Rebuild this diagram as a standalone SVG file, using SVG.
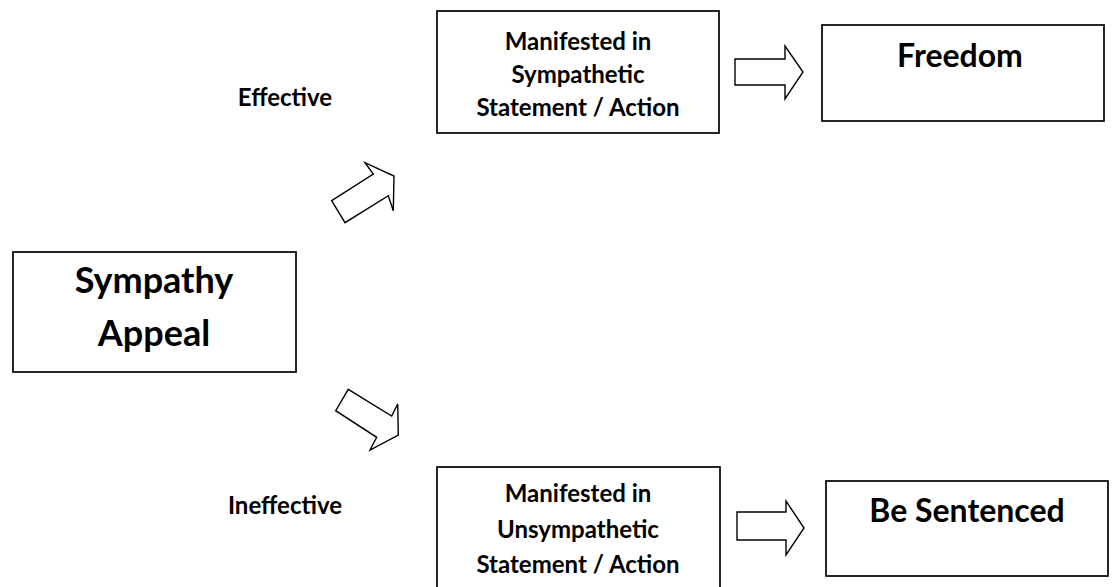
<svg xmlns="http://www.w3.org/2000/svg" width="1112" height="587" viewBox="0 0 1112 587">
<style>
.box{fill:#fff;stroke:#000;stroke-width:1.7}
.arr{fill:#fff;stroke:#000;stroke-width:1.4;stroke-linejoin:miter}
.t{font-family:Lato,"Open Sans",sans-serif;font-weight:bold;fill:#000;text-anchor:middle}
.s{font-size:24px}
.m{font-size:32px}
.l{font-size:36px}
</style>
<rect width="1112" height="587" fill="#fff"/>
<g id="sympathy">
<rect class="box" x="13" y="252" width="283" height="120"/>
<text class="t l" x="154" y="293">Sympathy</text>
<text class="t l" x="154" y="346">Appeal</text>
</g>
<g id="manifested-top">
<rect class="box" x="437" y="11" width="282" height="122"/>
<text class="t s" x="578" y="50">Manifested in</text>
<text class="t s" x="578" y="83">Sympathetic</text>
<text class="t s" x="578" y="116">Statement / Action</text>
</g>
<g id="freedom">
<rect class="box" x="822" y="25" width="282" height="96"/>
<text class="t m" x="960" y="67">Freedom</text>
</g>
<g id="manifested-bottom">
<rect class="box" x="437" y="467" width="283" height="130"/>
<text class="t s" x="578" y="502">Manifested in</text>
<text class="t s" x="578" y="538">Unsympathetic</text>
<text class="t s" x="578" y="573">Statement / Action</text>
</g>
<g id="sentenced">
<rect class="box" x="826" y="481" width="282" height="95"/>
<text class="t m" x="967" y="522">Be Sentenced</text>
</g>
<g id="labels">
<text class="t s" x="285" y="106">Effective</text>
<text class="t s" x="285" y="514">Ineffective</text>
</g>
<g id="connectors">
<polygon class="arr" points="331.7,200.7 373.3,174 365,162.7 394,176 393.3,210.7 388.3,195.7 345,222.7"/>
<polygon class="arr" points="348.3,389.3 391.7,416 397.7,404 398.3,435 370,450 376.7,437.3 335.7,410.7"/>
<polygon class="arr" points="735,59 785,59 785,46 803,72 785,99 785,85 735,85"/>
<polygon class="arr" points="737,512 786,512 786,501 804,528 786,555 786,540 737,540"/>
</g>
</svg>
